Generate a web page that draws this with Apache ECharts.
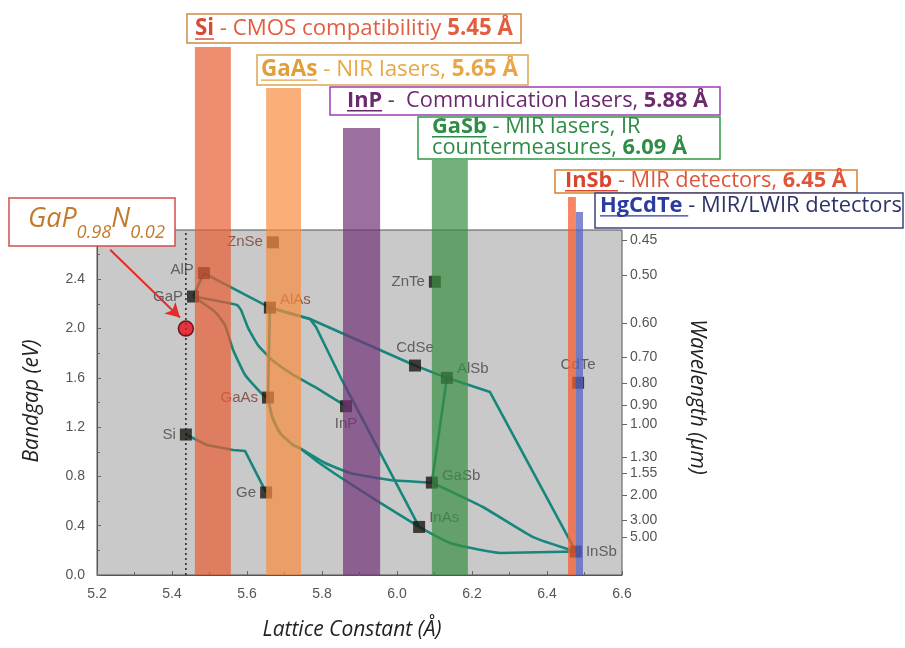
<!DOCTYPE html>
<html><head><meta charset="utf-8">
<script src="https://cdn.jsdelivr.net/npm/echarts@6/dist/echarts.min.js"></script>
<style>html,body{margin:0;padding:0;background:#fff}#c{width:905px;height:648px}</style>
</head><body><div id="c"></div>
<script>
// ---------------- DATA ----------------
const xTickValues = [5.2, 5.4, 5.6, 5.8, 6.0, 6.2, 6.4, 6.6];
const yTickValues = [0.0, 0.4, 0.8, 1.2, 1.6, 2.0, 2.4, 2.8];
const wavelengthLabels = ['0.45','0.50','0.60','0.70','0.80','0.90','1.00','1.30','1.55','2.00','3.00','5.00'];
const wavelengthGapPos = [2.719, 2.435, 2.045, 1.769, 1.558, 1.380, 1.226, 0.958, 0.828, 0.649, 0.446, 0.308];

const compoundNames = ['Si','Ge','GaP','AlP','ZnSe','AlAs','GaAs','InP','ZnTe','CdSe','AlSb','CdTe','GaSb','InAs','InSb'];
const latticeConst  = [5.437,5.651,5.456,5.485,5.669,5.661,5.656,5.864,6.101,6.048,6.133,6.483,6.093,6.059,6.477];
const bandgapEv     = [1.14, 0.67, 2.26, 2.45, 2.70, 2.17, 1.44, 1.37, 2.38, 1.70, 1.60, 1.56, 0.75, 0.39, 0.19];

const curveSiGe     = [[5.437,1.14],[5.493,1.055],[5.563,1.015],[5.595,1.006],[5.651,0.67]];
const curveAlPGaP   = [[5.485,2.45],[5.456,2.26]];
const curveAlPAlAs  = [[5.485,2.45],[5.661,2.17]];
const curveGaPGaAs  = [[5.456,2.26],[5.515,2.135],[5.541,2.029],[5.563,1.826],[5.595,1.623],[5.640,1.469],[5.656,1.44]];
const curveGaPInP   = [[5.456,2.26],[5.573,2.192],[5.584,2.151],[5.603,2.005],[5.629,1.867],[5.667,1.745],[5.72,1.631],[5.781,1.526],[5.864,1.37]];
const curveAlAsGaAs = [[5.661,2.17],[5.656,1.44]];
const curveAlAsAlSb = [[5.661,2.17],[5.768,2.078],[6.048,1.70],[6.133,1.60]];
const curveAlSbInSb = [[6.133,1.60],[6.248,1.485],[6.477,0.19]];
const curveAlAsInAs = [[5.661,2.17],[5.768,2.078],[5.784,2.013],[5.853,1.583],[6.059,0.39]];
const curveGaAsGaSb = [[5.656,1.44],[5.667,1.282],[5.688,1.153],[5.723,1.055],[5.741,1.03],[5.808,0.909],[5.875,0.828],[5.981,0.771],[6.093,0.75]];
const curveGaAsInAs = [[5.656,1.44],[5.667,1.282],[5.688,1.153],[5.723,1.055],[5.741,1.03],[5.789,0.917],[5.856,0.779],[5.947,0.601],[6.059,0.39]];
const curveAlSbGaSb = [[6.133,1.60],[6.093,0.75]];
const curveGaSbInSb = [[6.093,0.75],[6.229,0.552],[6.363,0.308],[6.477,0.19]];
const curveInAsInSb = [[6.059,0.39],[6.141,0.260],[6.275,0.179],[6.408,0.187],[6.477,0.19]];

const bandNames = ['Si','GaAs','InP','GaSb','InSb','HgCdTe'];
const bandStart = [5.461,5.651,5.856,6.093,6.456,6.477];
const bandEnd   = [5.557,5.744,5.955,6.189,6.477,6.496];
const bandTop   = [4.286,3.953,3.628,3.368,3.068,2.946];

const siLattice = 5.437;
const gapNPoint = [5.437, 2.0];
const arrowFrom = [5.235, 2.64];
const arrowTo   = [5.421, 2.09];

// ---------------- STYLE ----------------
const TEAL = '#17877d';
const bandColors = ['rgba(231,93,50,0.7)','rgba(248,140,62,0.7)','rgba(114,50,121,0.7)','rgba(57,143,64,0.7)','rgba(243,93,50,0.75)','rgba(86,97,193,0.75)'];
const LBL = '#454545', LBLR = '#7b3a2c';
const labelStyle = {
  Si:['left',[0,0],LBL], Ge:['left',[0,0],LBL], GaP:['left',[0,0],LBL], AlP:['left',[0,-3],LBL],
  ZnSe:['left',[0,0],LBLR], AlAs:['right',[0,-8],LBLR], GaAs:['left',[0,0],LBLR], InP:['bottom',[0,0],LBL],
  ZnTe:['left',[0,0],LBL], CdSe:['top',[0,0],LBL], AlSb:['right',[0,-9],LBL], CdTe:['top',[0,0],LBL],
  GaSb:['right',[0,-7],LBL], InAs:['right',[0,-9],LBL], InSb:['right',[0,0],LBL]
};
const smoothCurves = new Set(['GaPInP','GaPGaAs','GaAsGaSb','GaAsInAs','GaSbInSb','InAsInSb']);

const curves = {SiGe:curveSiGe, AlPGaP:curveAlPGaP, AlPAlAs:curveAlPAlAs, GaPGaAs:curveGaPGaAs, GaPInP:curveGaPInP,
  AlAsGaAs:curveAlAsGaAs, AlAsAlSb:curveAlAsAlSb, AlSbInSb:curveAlSbInSb, AlAsInAs:curveAlAsInAs,
  GaAsGaSb:curveGaAsGaSb, GaAsInAs:curveGaAsInAs, AlSbGaSb:curveAlSbGaSb, GaSbInSb:curveGaSbInSb, InAsInSb:curveInAsInSb};

const series = [];
Object.keys(curves).forEach(k => {
  series.push({type:'line', name:k, data:curves[k], showSymbol:false, silent:true, z:2,
    smooth: smoothCurves.has(k) ? 0.15 : false,
    lineStyle:{color:TEAL, width:2.6}});
});
series.push({type:'line', data:[[siLattice,0],[siLattice,2.8]], showSymbol:false, silent:true, z:3,
  lineStyle:{color:'#222', width:1.5, type:[2,3]}});
series.push({type:'scatter', z:3, symbol:'rect', symbolSize:12,
  itemStyle:{color:'#1c1712'},
  data: compoundNames.map((n,i) => ({value:[latticeConst[i], bandgapEv[i]], name:n,
    label:{show:true, formatter:n, position:labelStyle[n][0], offset:labelStyle[n][1], color:labelStyle[n][2], distance:4,
      fontSize:15, fontFamily:'"Liberation Sans", Arial, sans-serif'}}))
});
series.push({type:'custom', z:5, clip:false, silent:true,
  data: bandStart.map((s,i) => [s, bandEnd[i], bandTop[i], i]),
  encode:{x:[0,1], y:2},
  renderItem:(params, api) => {
    const p0 = api.coord([api.value(0), 0]);
    const p1 = api.coord([api.value(1), api.value(2)]);
    return {type:'rect', shape:{x:p0[0], y:p1[1], width:p1[0]-p0[0], height:p0[1]-p1[1]},
      style:{fill: bandColors[api.value(3)]}};
  }
});
series.push({type:'scatter', z:8, symbol:'circle', symbolSize:15, data:[gapNPoint],
  itemStyle:{color:'#e8101b', borderColor:'#4a0000', borderWidth:1.5},
  markLine:{silent:true, symbol:['none','arrow'], symbolSize:[12,14], label:{show:false},
    lineStyle:{color:'#e52a2a', width:2, type:'solid'},
    data:[[{coord:arrowFrom},{coord:arrowTo}]]}
});

// ---------------- ANNOTATIONS ----------------
const mctx = document.createElement('canvas').getContext('2d');
const OS = '"Open Sans"';
function fstr(size,b,i){ return (i?'italic ':'')+(b?'bold ':'')+size.toFixed(2)+'px '+OS; }
function measure(segs,size){ let w=0; segs.forEach(s=>{ mctx.font=fstr(size*(s.r||1),s.b,s.i); w+=mctx.measureText(s.t).width;}); return w; }
const G = [];
function place(segs,x0,yMid,size){
  let x=x0;
  segs.forEach(s=>{
    const sz=size*(s.r||1); const f=fstr(sz,s.b,s.i);
    mctx.font=f; const w=mctx.measureText(s.t).width;
    const y = yMid + (s.dy||0)*size;
    G.push({type:'text', z:100, style:{text:s.t, x:x, y:y, font:f, fill:s.c, align:'left', verticalAlign:'middle', textAlign:'left', textVerticalAlign:'middle'}});
    if(s.u) G.push({type:'line', z:100, shape:{x1:x, y1:y+sz*0.45, x2:x+w, y2:y+sz*0.45}, style:{stroke:s.c, lineWidth:1.4}});
    x+=w;
  });
}
function fit(segs,target){ return 20*target/measure(segs,20); }
function box(x,y,w,h,c,lw){ G.push({type:'rect', z:99, shape:{x:x,y:y,width:w,height:h}, style:{fill:'#fff', stroke:c, lineWidth:lw||1.5}}); }

box(187,14,334,29,'#d08a3c');
const sSi=[{t:'Si',b:1,u:1,c:'#d94a32'},{t:' - CMOS compatibilitiy ',c:'#e35d3f'},{t:'5.45 Å',b:1,c:'#e35d3f'}];
place(sSi,195,29,fit(sSi,318));

box(257,55,271,30,'#dba64e');
const sGaAs=[{t:'GaAs',b:1,u:1,c:'#dfa03c'},{t:' - NIR lasers, ',c:'#eaa645'},{t:'5.65 Å',b:1,c:'#eaa645'}];
place(sGaAs,261,70,fit(sGaAs,257));

box(330,87,390,28,'#9d3cb8');
const sInP=[{t:'InP',b:1,u:1,c:'#6b2a6e'},{t:' -  Communication lasers, ',c:'#6b2a6e'},{t:'5.88 Å',b:1,c:'#6b2a6e'}];
place(sInP,347,101,fit(sInP,361));

box(418,117,302,42,'#2f9a44');
const sGaSb1=[{t:'GaSb',b:1,u:1,c:'#2f8c46'},{t:' - MIR lasers, IR',c:'#2f8c46'}];
const sGaSb2=[{t:'countermeasures, ',c:'#2f8c46'},{t:'6.09 Å',b:1,c:'#2f8c46'}];
const gsz=fit(sGaSb2,255);
place(sGaSb1,432,127,gsz); place(sGaSb2,432,148,gsz);

box(555,170,302,23,'#d88232');
const sInSb=[{t:'InSb ',b:1,u:1,c:'#d8462f'},{t:'- MIR detectors, ',c:'#e0553a'},{t:'6.45 Å',b:1,c:'#e0553a'}];
place(sInSb,565,181,fit(sInSb,282));

box(595,193,308,35,'#3d4380');
const sHg=[{t:'HgCdTe ',b:1,u:1,c:'#2b3c9e'},{t:'- MIR/LWIR detectors',c:'#2e3468'}];
place(sHg,600,206,fit(sHg,302));

box(9,198,166,48,'#d24c4c');
const sGaPN=[{t:'GaP',i:1,c:'#c27a2e'},{t:'0.98',i:1,r:0.68,dy:0.5,c:'#c27a2e'},{t:'N',i:1,c:'#c27a2e'},{t:'0.02',i:1,r:0.68,dy:0.5,c:'#c27a2e'}];
place(sGaPN,28,219,fit(sGaPN,137));

G.push({type:'text', z:100, x:32, y:401, rotation:Math.PI/2, style:{text:'Bandgap (eV)', x:0, y:0, font:'italic 21px '+OS, fill:'#222', align:'center', verticalAlign:'middle', textAlign:'center', textVerticalAlign:'middle'}});
G.push({type:'text', z:100, x:697, y:397, rotation:-Math.PI/2, style:{text:'Wavelength (µm)', x:0, y:0, font:'italic 21px '+OS, fill:'#222', align:'center', verticalAlign:'middle', textAlign:'center', textVerticalAlign:'middle'}});
G.push({type:'text', z:100, x:352, y:630, style:{text:'Lattice Constant (Å)', x:0, y:0, font:'italic 21px '+OS, fill:'#222', align:'center', verticalAlign:'middle', textAlign:'center', textVerticalAlign:'middle'}});

const tickFont = {color:'#555', fontSize:14, fontFamily:'"Liberation Sans", Arial, sans-serif'};
const chart = echarts.init(document.getElementById('c'), null, {renderer:'canvas'});
chart.setOption({
  animation:false,
  backgroundColor:'#ffffff',
  grid:{left:97, right:283, top:230, bottom:73, show:true, backgroundColor:'#c9c9c9', borderColor:'#555', borderWidth:1, containLabel:false},
  xAxis:{type:'value', min:xTickValues[0], max:xTickValues[xTickValues.length-1], interval:0.2,
    axisLine:{show:true, lineStyle:{color:'#555', width:1}},
    axisTick:{show:true, inside:true, length:4, lineStyle:{color:'#666'}},
    minorTick:{show:true, splitNumber:2, length:3, lineStyle:{color:'#666'}},
    splitLine:{show:false},
    axisLabel:{...tickFont, margin:12, formatter:v=>v.toFixed(1)}},
  yAxis:[
    {type:'value', min:yTickValues[0], max:yTickValues[yTickValues.length-1], interval:0.4,
      axisLine:{show:true, lineStyle:{color:'#555', width:1}},
      axisTick:{show:true, inside:true, length:4, lineStyle:{color:'#666'}},
      minorTick:{show:true, splitNumber:2, length:3, lineStyle:{color:'#666'}},
      splitLine:{show:false},
      axisLabel:{...tickFont, margin:12, showMaxLabel:false, formatter:v=>v.toFixed(1)}},
    {type:'value', position:'right', min:0, max:2.8,
      axisLine:{show:false}, splitLine:{show:false},
      axisTick:{show:true, inside:false, length:5, customValues:wavelengthGapPos, lineStyle:{color:'#666'}},
      axisLabel:{...tickFont, margin:8, customValues:wavelengthGapPos,
        formatter:v=>{const i=wavelengthGapPos.indexOf(v); return i>=0?wavelengthLabels[i]:'';}}}
  ],
  graphic:G,
  series:series
});
</script></body></html>
